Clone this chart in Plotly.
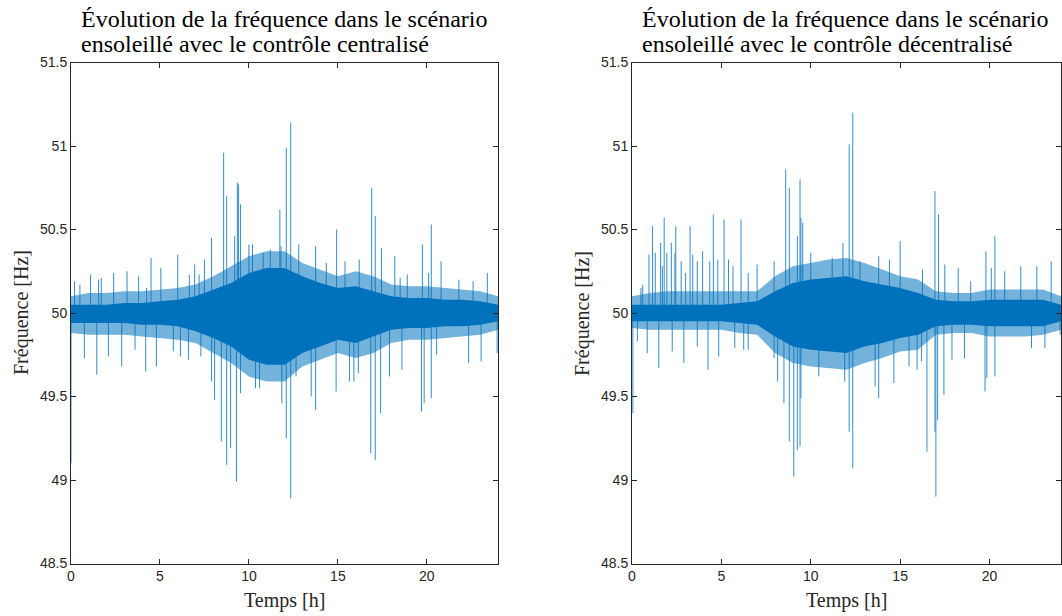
import plotly.graph_objects as go

# ---------------- data ----------------
hours = [0, 1, 2, 3, 4, 5, 6, 7, 8, 9, 10, 11, 12, 13, 14, 15, 16, 17, 18, 19, 20, 21, 22, 23, 24]

# centralised control: dense core band and ragged fringe (Hz)
c_core_hi = [50.05, 50.05, 50.05, 50.06, 50.06, 50.07, 50.08, 50.10, 50.14, 50.18, 50.24, 50.27, 50.27,
             50.22, 50.18, 50.15, 50.16, 50.13, 50.10, 50.09, 50.09, 50.08, 50.08, 50.07, 50.05]
c_core_lo = [49.94, 49.94, 49.94, 49.94, 49.93, 49.93, 49.92, 49.89, 49.85, 49.80, 49.72, 49.69, 49.69,
             49.76, 49.80, 49.84, 49.82, 49.86, 49.90, 49.91, 49.91, 49.92, 49.92, 49.93, 49.95]
c_fringe_hi = [50.10, 50.12, 50.12, 50.13, 50.13, 50.14, 50.15, 50.17, 50.22, 50.28, 50.34, 50.37, 50.37,
               50.30, 50.26, 50.22, 50.25, 50.22, 50.17, 50.16, 50.16, 50.15, 50.14, 50.13, 50.10]
c_fringe_lo = [49.88, 49.87, 49.87, 49.87, 49.86, 49.85, 49.84, 49.82, 49.76, 49.70, 49.62, 49.59, 49.59,
               49.68, 49.72, 49.76, 49.73, 49.76, 49.82, 49.84, 49.84, 49.85, 49.86, 49.87, 49.90]
c_spike_t = [0.0, 0.2, 0.5, 1.1, 1.55, 1.7, 2.4, 3.15, 3.8, 4.25, 4.5, 5.05, 6.0, 6.65, 6.95, 7.2, 7.5, 7.9,
             8.58, 8.75, 9.2, 9.35, 9.42, 9.53, 10.0, 10.2, 10.8, 11.2, 11.74, 11.8, 12.1, 12.35, 12.8,
             13.75, 14.35, 14.93, 15.4, 16.2, 16.9, 17.1, 17.45, 18.2, 18.5, 18.9, 19.75, 20.1, 20.25,
             20.8, 21.8, 22.6, 23.4,
             0.75, 1.45, 2.1, 2.85, 3.6, 4.2, 4.8, 5.75, 6.15, 6.6, 7.3, 7.9, 8.07, 8.45, 8.75, 8.97,
             9.3, 9.53, 10.37, 10.6, 11.85, 12.1, 12.35, 12.65, 13.5, 13.75, 14.9, 15.65, 15.9, 16.15,
             16.85, 17.1, 17.4, 17.9, 18.6, 19.7, 19.85, 20.25, 20.55, 22.35, 23.05, 23.95]
c_spike_f = [49.10, 50.19, 50.17, 50.23, 50.20, 50.21, 50.24, 50.25, 50.22, 50.15, 50.33, 50.27, 50.35,
             50.23, 50.29, 50.23, 50.32, 50.45, 50.96, 50.70, 50.46, 50.78, 50.77, 50.65, 50.41, 50.41,
             50.36, 50.38, 50.62, 50.40, 50.99, 51.14, 50.41, 50.40, 50.30, 50.50, 50.31, 50.32, 50.75,
             50.58, 50.39, 50.34, 50.21, 50.23, 50.41, 50.24, 50.53, 50.31, 50.20, 50.19, 50.24,
             49.73, 49.63, 49.74, 49.68, 49.78, 49.65, 49.68, 49.77, 49.74, 49.72, 49.74, 49.59, 49.48,
             49.23, 49.09, 49.19, 48.99, 49.52, 49.55, 49.55, 49.46, 49.25, 48.89, 49.62, 49.50, 49.42,
             49.53, 49.59, 49.59, 49.64, 49.16, 49.12, 49.40, 49.62, 49.66, 49.41, 49.46, 49.49, 49.75,
             49.70, 49.71, 49.76]

# decentralised control
d_core_hi = [50.05, 50.05, 50.05, 50.05, 50.05, 50.05, 50.06, 50.07, 50.13, 50.18, 50.20, 50.21, 50.22,
             50.19, 50.17, 50.15, 50.12, 50.08, 50.07, 50.07, 50.08, 50.08, 50.08, 50.08, 50.05]
d_core_lo = [49.95, 49.95, 49.95, 49.95, 49.95, 49.95, 49.94, 49.93, 49.86, 49.80, 49.78, 49.77, 49.76,
             49.80, 49.82, 49.85, 49.87, 49.92, 49.93, 49.93, 49.92, 49.92, 49.92, 49.92, 49.95]
d_fringe_hi = [50.10, 50.12, 50.13, 50.13, 50.13, 50.13, 50.13, 50.13, 50.22, 50.28, 50.30, 50.32, 50.33,
               50.30, 50.26, 50.22, 50.20, 50.13, 50.12, 50.12, 50.14, 50.14, 50.14, 50.14, 50.10]
d_fringe_lo = [49.91, 49.90, 49.90, 49.90, 49.90, 49.90, 49.88, 49.87, 49.76, 49.70, 49.68, 49.67, 49.66,
               49.70, 49.73, 49.77, 49.78, 49.87, 49.88, 49.88, 49.86, 49.86, 49.86, 49.87, 49.90]
d_spike_t = [0.05, 0.5, 0.6, 0.95, 1.15, 1.3, 1.6, 1.7, 1.8, 1.95, 2.2, 2.4, 2.45, 2.75, 3.0, 3.25, 3.4,
             3.65, 3.95, 4.35, 4.55, 4.8, 5.15, 5.4, 5.65, 6.1, 6.5, 7.0, 7.95, 8.6, 8.8, 9.25, 9.4, 9.45,
             9.55, 10.0, 11.2, 11.8, 12.15, 12.35, 12.75, 13.8, 14.4, 15.0, 16.25, 16.95, 17.15, 17.5,
             18.25, 18.95, 19.8, 20.1, 20.3, 20.85, 21.75, 22.65, 23.45,
             0.3, 0.85, 1.5, 2.25, 2.9, 3.65, 4.25, 4.85, 5.75, 6.25, 6.5, 7.95, 8.15, 8.5, 8.8, 9.05,
             9.25, 9.4, 9.45, 10.45, 11.9, 12.15, 12.35, 13.6, 13.8, 14.65, 15.5, 15.95, 16.2, 16.5,
             16.95, 17.0, 17.1, 17.45, 17.9, 18.6, 19.75, 19.85, 20.3, 22.35, 23.1, 23.95]
d_spike_f = [49.40, 50.15, 50.17, 50.35, 50.52, 50.36, 50.42, 50.28, 50.57, 50.36, 50.42, 50.36, 50.52,
             50.31, 50.24, 50.52, 50.35, 50.31, 50.37, 50.31, 50.59, 50.32, 50.56, 50.32, 50.28, 50.56,
             50.24, 50.29, 50.31, 50.86, 50.75, 50.46, 50.80, 50.57, 50.54, 50.36, 50.33, 50.42, 51.01,
             51.20, 50.31, 50.34, 50.32, 50.43, 50.26, 50.73, 50.59, 50.29, 50.27, 50.19, 50.37, 50.27,
             50.46, 50.25, 50.28, 50.28, 50.31,
             49.83, 49.76, 49.67, 49.77, 49.70, 49.80, 49.66, 49.74, 49.79, 49.78, 49.78, 49.73, 49.59,
             49.46, 49.23, 49.02, 49.18, 49.20, 49.49, 49.62, 49.59, 49.29, 49.07, 49.56, 49.49, 49.58,
             49.68, 49.66, 49.71, 49.17, 49.29, 48.90, 49.36, 49.51, 49.72, 49.73, 49.53, 49.61, 49.62,
             49.79, 49.79, 49.87]

title_line1 = ["Évolution de la fréquence dans le scénario",
               "Évolution de la fréquence dans le scénario"]
title_line2 = ["ensoleillé avec le contrôle centralisé",
               "ensoleillé avec le contrôle décentralisé"]
y_ticks = [48.5, 49, 49.5, 50, 50.5, 51, 51.5]
y_tick_text = ["48.5", "49", "49.5", "50", "50.5", "51", "51.5"]
x_ticks = [0, 5, 10, 15, 20]
x_label = "Temps [h]"
y_label = "Fréquence [Hz]"
nominal = 50.0

# ---------------- figure ----------------
W, H = 1062, 616
BLUE = "#0072BD"
FRINGE = "rgba(0,114,189,0.55)"
AXC = "#262626"
SERIF = "Liberation Serif, Times New Roman, serif"
SANS = "Liberation Sans, Arial, sans-serif"

fig = go.Figure()

series = [
    (c_core_hi, c_core_lo, c_fringe_hi, c_fringe_lo, c_spike_t, c_spike_f, "x", "y"),
    (d_core_hi, d_core_lo, d_fringe_hi, d_fringe_lo, d_spike_t, d_spike_f, "x2", "y2"),
]
for core_hi, core_lo, fr_hi, fr_lo, sp_t, sp_f, xa, ya in series:
    fig.add_trace(go.Scatter(x=hours, y=fr_lo, mode="lines", line=dict(width=0, color=FRINGE),
                             xaxis=xa, yaxis=ya, showlegend=False, hoverinfo="skip"))
    fig.add_trace(go.Scatter(x=hours, y=fr_hi, mode="lines", line=dict(width=0, color=FRINGE),
                             fill="tonexty", fillcolor=FRINGE,
                             xaxis=xa, yaxis=ya, showlegend=False, hoverinfo="skip"))
    fig.add_trace(go.Scatter(x=hours, y=core_lo, mode="lines", line=dict(width=0, color=BLUE),
                             xaxis=xa, yaxis=ya, showlegend=False, hoverinfo="skip"))
    fig.add_trace(go.Scatter(x=hours, y=core_hi, mode="lines", line=dict(width=0, color=BLUE),
                             fill="tonexty", fillcolor=BLUE,
                             xaxis=xa, yaxis=ya, showlegend=False, hoverinfo="skip"))
    sx, sy = [], []
    for t, f in zip(sp_t, sp_f):
        sx += [t, t, None]
        sy += [nominal, f, None]
    fig.add_trace(go.Scatter(x=sx, y=sy, mode="lines", line=dict(width=1, color=BLUE),
                             opacity=0.8, xaxis=xa, yaxis=ya, showlegend=False, hoverinfo="skip"))

def px_x(p):
    return p / W

def px_y(p):
    return 1 - p / H

x_doms = [(71, 498), (632, 1061)]
y_dom = (563.5, 62.5)

common_x = dict(range=[0, 24], tickmode="array", tickvals=x_ticks, ticks="inside", ticklen=5,
                tickcolor=AXC, showline=True, linecolor=AXC, linewidth=1, mirror="ticks",
                showgrid=False, zeroline=False, automargin=False,
                tickfont=dict(family=SANS, size=14, color=AXC))
common_y = dict(range=[48.5, 51.5], tickmode="array", tickvals=y_ticks, ticktext=y_tick_text,
                ticks="inside", ticklen=5, tickcolor=AXC, showline=True, linecolor=AXC, linewidth=1,
                mirror="ticks", showgrid=False, zeroline=False, automargin=False,
                tickfont=dict(family=SANS, size=14, color=AXC))

fig.update_layout(
    width=W, height=H, margin=dict(l=0, r=0, t=0, b=0, autoexpand=False),
    paper_bgcolor="white", plot_bgcolor="white",
    xaxis=dict(domain=[px_x(x_doms[0][0]), px_x(x_doms[0][1])], anchor="y", **common_x),
    yaxis=dict(domain=[px_y(y_dom[0]), px_y(y_dom[1])], anchor="x", **common_y),
    xaxis2=dict(domain=[px_x(x_doms[1][0]), px_x(x_doms[1][1])], anchor="y2", **common_x),
    yaxis2=dict(domain=[px_y(y_dom[0]), px_y(y_dom[1])], anchor="x2", **common_y),
)

annotations = []
for i, (x0, x1) in enumerate(x_doms):
    annotations.append(dict(text=title_line1[i], x=px_x(x0 + 8), y=px_y(19), xref="paper", yref="paper",
                            xanchor="left", yanchor="middle", align="left", showarrow=False,
                            font=dict(family=SERIF, size=24, color="#000000")))
    annotations.append(dict(text=title_line2[i], x=px_x(x0 + 8), y=px_y(44), xref="paper", yref="paper",
                            xanchor="left", yanchor="middle", align="left", showarrow=False,
                            font=dict(family=SERIF, size=24, color="#000000")))
    annotations.append(dict(text=x_label, x=px_x((x0 + x1) / 2), y=px_y(600), xref="paper",
                            yref="paper", xanchor="center", yanchor="middle", showarrow=False,
                            font=dict(family=SERIF, size=20, color=AXC)))
    annotations.append(dict(text=y_label, x=px_x(x0 - 50), y=px_y(313), xref="paper", yref="paper",
                            xanchor="center", yanchor="middle", textangle=-90, showarrow=False,
                            font=dict(family=SERIF, size=20, color=AXC)))
fig.update_layout(annotations=annotations)

fig.write_html("out.html", config={"displayModeBar": False},
               post_script="document.body.style.margin='0';")
